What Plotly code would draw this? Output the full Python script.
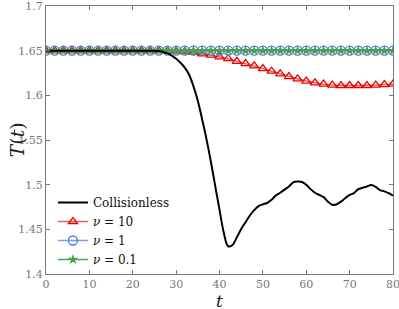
import plotly.graph_objects as go

# Collisionless curve, t = 0..80 step 1
t_cl = list(range(0, 81))
T_cl = [1.65]*25 + [
    1.6498, 1.6495, 1.6485, 1.647, 1.6445, 1.641, 1.6365, 1.631, 1.623, 1.610,
    1.594, 1.573, 1.551, 1.526, 1.499, 1.472, 1.446, 1.431, 1.4325, 1.441,
    1.4505, 1.458, 1.4655, 1.4715, 1.476, 1.478, 1.4795, 1.483, 1.488, 1.491,
    1.4945, 1.498, 1.5025, 1.5035, 1.503, 1.500, 1.495, 1.491, 1.4885, 1.486,
    1.481, 1.4775, 1.478, 1.481, 1.485, 1.4885, 1.4905, 1.495, 1.4965, 1.498,
    1.4995, 1.4975, 1.494, 1.4925, 1.4905, 1.4878]

# Collisional runs, t = 0..80 step 2
t_c = list(range(0, 81, 2))
T_nu10 = [1.65]*14 + [
    1.6498, 1.6495, 1.649, 1.648, 1.6465, 1.645, 1.643, 1.641, 1.638, 1.6355,
    1.633, 1.630, 1.627, 1.624, 1.621, 1.6185, 1.616, 1.614, 1.6125, 1.6115,
    1.611, 1.611, 1.611, 1.611, 1.6115, 1.612, 1.6125]
T_nu1 = [1.65]*41
T_nu01 = [1.65]*41

x_ticks = [0, 10, 20, 30, 40, 50, 60, 70, 80]
y_ticks = [1.4, 1.45, 1.5, 1.55, 1.6, 1.65, 1.7]
y_labels = ["1.4", "1.45", "1.5", "1.55", "1.6", "1.65", "1.7"]

SERIF = "DejaVu Serif"

fig = go.Figure()
fig.add_trace(go.Scatter(x=t_c, y=T_nu10, mode="lines+markers", name="<i>ν</i> = 10",
                         legendrank=2,
                         line=dict(color="rgba(235,40,40,0.75)", width=1.5),
                         marker=dict(symbol="triangle-up-open", size=8, color="rgb(230,0,0)",
                                     line=dict(width=1.3))))
fig.add_trace(go.Scatter(x=t_c, y=T_nu1, mode="lines+markers", name="<i>ν</i> = 1",
                         legendrank=3,
                         line=dict(color="rgba(100,140,220,0.85)", width=1.5),
                         marker=dict(symbol="circle-open", size=9, color="rgb(80,120,220)",
                                     line=dict(width=1.3))))
fig.add_trace(go.Scatter(x=t_c, y=T_nu01, mode="lines+markers", name="<i>ν</i> = 0.1",
                         legendrank=4,
                         line=dict(color="rgb(70,170,80)", width=1.5),
                         marker=dict(symbol="star", size=8, color="rgb(70,160,80)")))
fig.add_trace(go.Scatter(x=t_cl, y=T_cl, mode="lines", name="Collisionless",
                         legendrank=1, line_shape="spline",
                         line=dict(color="black", width=2)))

axis_common = dict(showline=True, linecolor="#777", linewidth=1, mirror="ticks",
                   ticks="inside", ticklen=4, tickcolor="#777", showgrid=False,
                   zeroline=False, automargin=False, ticklabeloverflow="allow",
                   tickfont=dict(family=SERIF, size=11, color="#777"))
fig.update_xaxes(range=[0, 80], tickvals=x_ticks, **axis_common)
fig.update_yaxes(range=[1.4, 1.7], tickvals=y_ticks, ticktext=y_labels, **axis_common)
fig.add_annotation(text="<i>t</i>", xref="paper", yref="paper", x=0.5, y=-0.056,
                   xanchor="center", yanchor="top", showarrow=False,
                   font=dict(family=SERIF, size=17, color="#222"))
fig.add_annotation(text="<i>T</i>(<i>t</i>)", xref="paper", yref="paper", x=-0.045, y=0.5,
                   xanchor="right", yanchor="middle", showarrow=False, textangle=-90,
                   font=dict(family=SERIF, size=19, color="#222"))
fig.update_layout(width=399, height=309, margin=dict(l=46, r=6, t=6, b=35),
                  plot_bgcolor="white", paper_bgcolor="white",
                  legend=dict(x=0.02, y=0.0, xanchor="left", yanchor="bottom",
                              bgcolor="rgba(0,0,0,0)", tracegroupgap=0,
                              font=dict(family=SERIF, size=12, color="#111")))
fig.write_html("out.html", config={"displayModeBar": False},
               post_script="document.body.style.margin='0';document.body.style.overflow='hidden';")
